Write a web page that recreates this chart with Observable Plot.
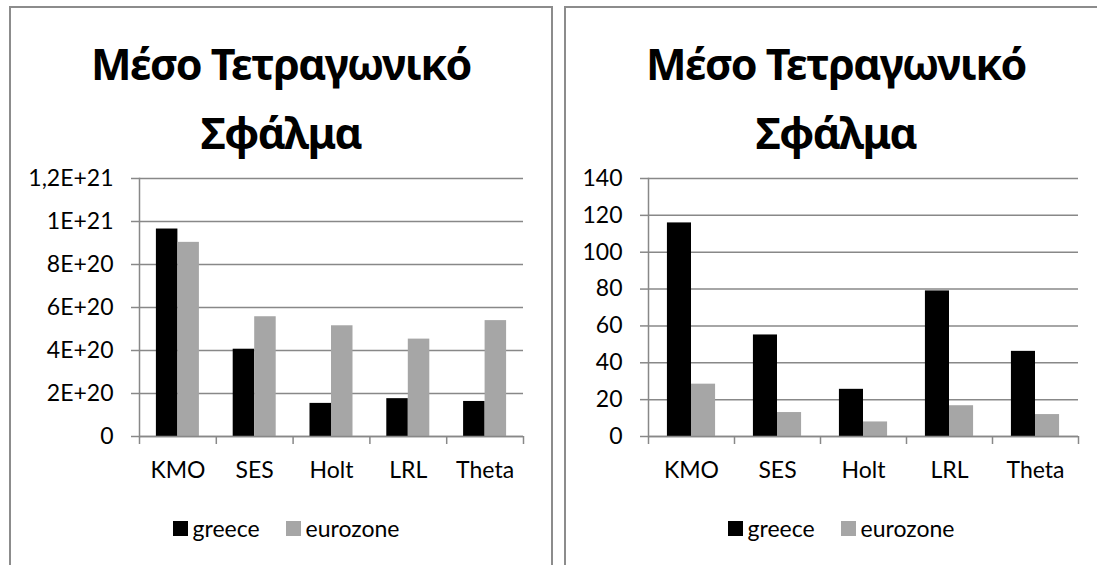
<!DOCTYPE html>
<html><head><meta charset="utf-8">
<script src="https://cdn.jsdelivr.net/npm/d3@7"></script>
<script src="https://cdn.jsdelivr.net/npm/@observablehq/plot@0.6"></script>
<style>
html,body{margin:0;padding:0;background:#fff;overflow:hidden;width:1097px;height:565px;position:relative}
.panel{position:absolute;top:6px;width:544px;height:620px;box-sizing:border-box;border:2px solid #8c8c8c;border-bottom:none;background:#fff}
.title{position:absolute;top:29px;width:542px;text-align:center;font-family:"Noto Sans";font-weight:bold;font-size:43px;letter-spacing:-1.5px;line-height:69px;color:#000;white-space:nowrap}
.chart{position:absolute;top:150px;width:542px;height:346px}
.chart svg{max-width:none !important;width:542px;height:346px}
.legend{position:absolute;top:513px;width:542px;height:30px;display:flex;justify-content:center;align-items:center;font-family:Lato;font-size:23px;color:#000;padding-left:10px;box-sizing:border-box}
.legend .item{display:flex;align-items:center;margin:0 13px}
.legend .sw{width:15px;height:15px;margin-right:5px}
</style></head>
<body>
<script>
const categories = ["KMO", "SES", "Holt", "LRL", "Theta"];
const series = ["greece", "eurozone"];
const colors = ["#000000", "#a6a6a6"];
const titleLines = ["Μέσο Τετραγωνικό", "Σφάλμα"];

const leftGreece = [9.65e20, 4.06e20, 1.54e20, 1.76e20, 1.63e20];
const leftEurozone = [9.03e20, 5.57e20, 5.15e20, 4.53e20, 5.39e20];
const leftTicks = [0, 2e20, 4e20, 6e20, 8e20, 1e21, 1.2e21];
const leftTickLabels = ["0", "2E+20", "4E+20", "6E+20", "8E+20", "1E+21", "1,2E+21"];

const rightGreece = [115.9, 55.1, 25.6, 79.0, 46.2];
const rightEurozone = [28.4, 13.0, 7.9, 16.7, 11.9];
const rightTicks = [0, 20, 40, 60, 80, 100, 120, 140];
const rightTickLabels = ["0", "20", "40", "60", "80", "100", "120", "140"];

const grid = "#888888";

function chart({greece, eurozone, ticks, tickLabels, width, marginLeft, marginRight}) {
  const rows = categories.flatMap((c, i) => [
    {cat: c, series: series[0], value: greece[i]},
    {cat: c, series: series[1], value: eurozone[i]}
  ]);
  const plotW = width - marginLeft - marginRight;
  const step = plotW / categories.length;
  const bw = step * 0.56;
  return Plot.plot({
    width, height: 346, marginTop: 28, marginBottom: 60, marginLeft, marginRight,
    style: {fontFamily: "Lato", fontSize: "23px", color: "#000", background: "transparent", overflow: "visible"},
    x: {domain: categories, paddingInner: 0.44, paddingOuter: 0.22, round: false, axis: null},
    y: {domain: [0, ticks[ticks.length - 1]], axis: null},
    color: {domain: series, range: colors},
    marks: [
      Plot.ruleY(ticks, {stroke: grid, strokeWidth: 1.5}),
      Plot.axisY({ticks, label: null, tickFormat: d => tickLabels[ticks.indexOf(d)], tickSize: 8, tickPadding: 18,
        stroke: grid, strokeWidth: 1.5, strokeOpacity: 1, fill: "#000"}),
      Plot.frame({anchor: "left", stroke: grid, strokeWidth: 1.5}),
      Plot.barY(rows.filter(d => d.series === series[0]), {x: "cat", y: "value", fill: "series", insetRight: bw / 2}),
      Plot.barY(rows.filter(d => d.series === series[1]), {x: "cat", y: "value", fill: "series", insetLeft: bw / 2}),
      Plot.ruleY([0], {stroke: grid, strokeWidth: 1.5}),
      Plot.axisX({label: null, tickSize: 8, tickFormat: () => "", dx: -step / 2, stroke: grid, strokeWidth: 1.5, strokeOpacity: 1}),
      Plot.axisX({label: null, ticks: [categories[categories.length - 1]], tickSize: 8, tickFormat: () => "", dx: step / 2, stroke: grid, strokeWidth: 1.5, strokeOpacity: 1}),
      Plot.axisX({label: null, tickSize: 0, tickPadding: 25, fill: "#000"})
    ]
  });
}

function panel(left, opts) {
  const p = document.createElement("div");
  p.className = "panel"; p.style.left = (left - 1) + "px";
  document.body.appendChild(p);
  const t = document.createElement("div");
  t.className = "title"; t.style.left = left + "px";
  t.innerHTML = titleLines.join("<br>");
  document.body.appendChild(t);
  const c = document.createElement("div");
  c.className = "chart"; c.style.left = left + "px";
  c.appendChild(chart(opts));
  document.body.appendChild(c);
  const lg = document.createElement("div");
  lg.className = "legend"; lg.style.left = left + "px";
  series.forEach((s, i) => {
    const it = document.createElement("div"); it.className = "item";
    const sw = document.createElement("div"); sw.className = "sw"; sw.style.background = colors[i];
    const tx = document.createElement("span"); tx.textContent = s;
    it.appendChild(sw); it.appendChild(tx); lg.appendChild(it);
  });
  document.body.appendChild(lg);
}

panel(10, {greece: leftGreece, eurozone: leftEurozone, ticks: leftTicks, tickLabels: leftTickLabels, width: 542, marginLeft: 129, marginRight: 29});
panel(565, {greece: rightGreece, eurozone: rightEurozone, ticks: rightTicks, tickLabels: rightTickLabels, width: 542, marginLeft: 83, marginRight: 29});
</script>
</body></html>
